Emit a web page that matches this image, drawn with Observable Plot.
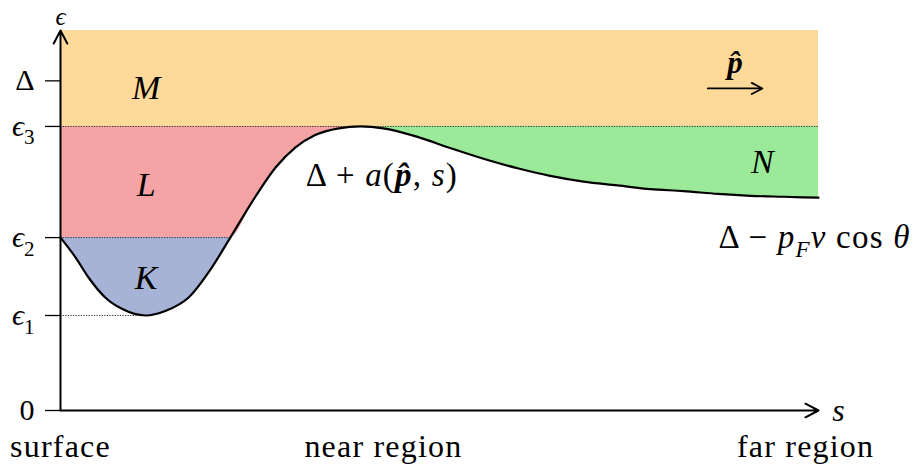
<!DOCTYPE html>
<html><head><meta charset="utf-8">
<script src="https://cdn.jsdelivr.net/npm/d3@7"></script>
<script src="https://cdn.jsdelivr.net/npm/@observablehq/plot@0.6"></script>
<style>body{margin:0;background:#fff} svg{display:block}</style>
</head><body><div id="chart"></div>
<script>
// curve Δ + a(p̂, s): position s (0..100) and energy e
const curveS = [0, 2.0, 3.7, 5.9, 8.1, 11.2, 13.9, 16.9, 20.0, 22.4, 25.7, 28.4, 31.0, 33.6, 36.7, 39.6, 42.6, 47.1, 51.5, 55.8, 60.3, 64.6, 69.0, 73.5, 77.8, 82.2, 86.7, 91.0, 95.4, 100];
const curveE = [1.82, 1.61, 1.40, 1.19, 1.07, 1.00, 1.05, 1.19, 1.51, 1.82, 2.25, 2.56, 2.77, 2.90, 2.97, 2.99, 2.97, 2.88, 2.76, 2.65, 2.55, 2.47, 2.41, 2.37, 2.33, 2.31, 2.28, 2.26, 2.25, 2.24];

// energy levels (y ticks)
const levelNames  = ["0", "ϵ1", "ϵ2", "ϵ3", "Δ"];
const levelValues = [0, 1.00, 1.82, 2.99, 3.47];
const eTop = 4.0;
const sMax = 100;

// region labels
const regionNames = ["M", "L", "K", "N"];
const regionS = [11.3, 11.3, 11.3, 92.6];
const regionE = [3.39, 2.37, 1.39, 2.61];

// position labels under the s axis
const placeNames = ["surface", "near region", "far region"];
const placeS = [0, 42.6, 98.3];

// formula annotations
const formulaNames = ["Δ + a(p̂, s)", "Δ − pFv cos θ"];
const formulaS = [42.4, 86.8];
const formulaE = [2.47, 1.82];
const formulaAnchor = ["middle", "start"];

// momentum direction arrow
const momentumArrow = [{s1: 85.4, s2: 92.6, e: 3.39}];
const momentumLabel = [{text: "p̂", s: 89.0, e: 3.66}];

const colors = {M: "#fdd99a", L: "#f5a3a5", K: "#a6b2d6", N: "#9aea9a"};
const FONT = "Liberation Serif";

const curve = curveS.map((s, i) => ({s, e: curveE[i]}));
const eps1 = levelValues[1], eps2 = levelValues[2], eps3 = levelValues[3];
const peak = curve.reduce((a, b) => (b.e > a.e ? b : a));
const minPt = curve.reduce((a, b) => (b.e < a.e ? b : a));
const cross = curve.filter(d => d.s > minPt.s && d.s < peak.s)
  .reduce((a, b) => (Math.abs(b.e - eps2) < Math.abs(a.e - eps2) ? b : a));

const Ldata = curve.filter(d => d.s <= peak.s);
const Kdata = curve.filter(d => d.s <= cross.s);
const Ndata = curve.filter(d => d.s >= peak.s);

const regions = regionNames.map((name, i) => ({name, s: regionS[i], e: regionE[i]}));
const places = placeNames.map((name, i) => ({name, s: placeS[i]}));
const formulas = formulaNames.map((name, i) => ({name, s: formulaS[i], e: formulaE[i], anchor: formulaAnchor[i]}));
const axisArrows = [{s1: 0, e1: 0, s2: 0, e2: eTop}, {s1: 0, e1: 0, s2: sMax, e2: 0}];
const dotted = [
  {e: eps3, s2: sMax},
  {e: eps2, s2: cross.s},
  {e: eps1, s2: minPt.s}
];

const chart = Plot.plot({
  width: 918, height: 465,
  marginLeft: 60, marginRight: 100, marginTop: 30, marginBottom: 55,
  x: {domain: [0, sMax], axis: null},
  y: {domain: [0, eTop]},
  style: {color: "black", background: "white", overflow: "visible"},
  marks: [
    Plot.rect([{}], {x1: 0, x2: sMax, y1: eps3, y2: eTop, fill: colors.M}),
    Plot.areaY(Ldata, {x: "s", y1: d => Math.max(d.e, eps2), y2: eps3, fill: colors.L, curve: "monotone-x"}),
    Plot.areaY(Kdata, {x: "s", y1: "e", y2: eps2, fill: colors.K, curve: "monotone-x"}),
    Plot.areaY(Ndata, {x: "s", y1: "e", y2: eps3, fill: colors.N, curve: "monotone-x"}),
    Plot.ruleY(dotted, {y: "e", x1: 0, x2: "s2", stroke: "#222", strokeWidth: 0.9, strokeDasharray: "1.3,1.3"}),
    Plot.line(curve, {x: "s", y: "e", stroke: "black", strokeWidth: 2.2, curve: "monotone-x"}),
    Plot.axisY(levelValues, {tickSize: 15, tickPadding: 11, strokeWidth: 1.3, fontSize: 30,
      tickFormat: d => levelNames[levelValues.indexOf(d)], label: null}),
    Plot.arrow(axisArrows, {x1: "s1", y1: "e1", x2: "s2", y2: "e2", stroke: "black", strokeWidth: 2, headLength: 11, headAngle: 55}),
    Plot.arrow(momentumArrow, {x1: "s1", x2: "s2", y1: "e", y2: "e", stroke: "black", strokeWidth: 1.8, headLength: 10, headAngle: 55}),
    Plot.text(momentumLabel, {x: "s", y: "e", text: "text", fontSize: 31}),
    Plot.text(regions, {x: "s", y: "e", text: "name", fontSize: 34, fontStyle: "italic"}),
    Plot.text(places, {x: "s", y: () => 0, dy: 36, text: "name", fontSize: 32}),
    Plot.text(formulas, {x: "s", y: "e", text: "name", fontSize: 33, textAnchor: "middle", filter: d => d.anchor === "middle"}),
    Plot.text(formulas, {x: "s", y: "e", text: "name", fontSize: 33, textAnchor: "start", filter: d => d.anchor === "start"}),
    Plot.text(["ϵ"], {x: () => 0, y: () => eTop, dy: -14, text: d => d, fontSize: 25}),
    Plot.text(["s"], {x: () => sMax, y: () => 0, dx: 20, text: d => d, fontSize: 32, fontStyle: "italic"})
  ]
});

// rich text: italic / bold / subscripts like LaTeX math
const rich = {
  "ϵ1": [["ϵ", "i"], ["1", "_"]],
  "ϵ2": [["ϵ", "i"], ["2", "_"]],
  "ϵ3": [["ϵ", "i"], ["3", "_"]],
  "ϵ": [["ϵ", "i"]],
  "p̂": [["p̂", "ib"]],
  "Δ + a(p̂, s)": [["Δ + ", ""], ["a", "i"], ["(", ""], ["p̂", "ib"], [", ", ""], ["s", "i"], [")", ""]],
  "Δ − pFv cos θ": [["Δ − ", ""], ["p", "i"], ["F", "i_"], ["v", "i"], [" cos ", ""], ["θ", "i"]]
};
// wider tracking to approach the Computer Modern text widths
const spacing = {"surface": 1.2, "near region": 1.2, "far region": 1.2, "Δ + a(p̂, s)": 1.2, "Δ − pFv cos θ": 1.2};

const svg = d3.select(chart);
svg.attr("font-family", FONT).style("font-family", FONT);
svg.selectAll("text").each(function() {
  const t = d3.select(this);
  t.attr("font-family", FONT).style("font-family", FONT);
  const key = this.textContent;
  if (spacing[key]) t.attr("letter-spacing", spacing[key]);
  const spec = rich[key];
  if (!spec) return;
  t.text(null);
  let shifted = false;
  for (const [str, st] of spec) {
    const ts = t.append("tspan").text(str);
    if (st.includes("i")) ts.attr("font-style", "italic");
    if (st.includes("b")) ts.attr("font-weight", "bold");
    if (st.includes("_")) {
      ts.attr("font-size", "70%");
      if (!shifted) { ts.attr("dy", "0.4em"); shifted = true; }
    } else if (shifted) {
      ts.attr("dy", "-0.28em"); shifted = false;
    }
  }
});

document.getElementById("chart").appendChild(chart);
</script>
</body></html>
